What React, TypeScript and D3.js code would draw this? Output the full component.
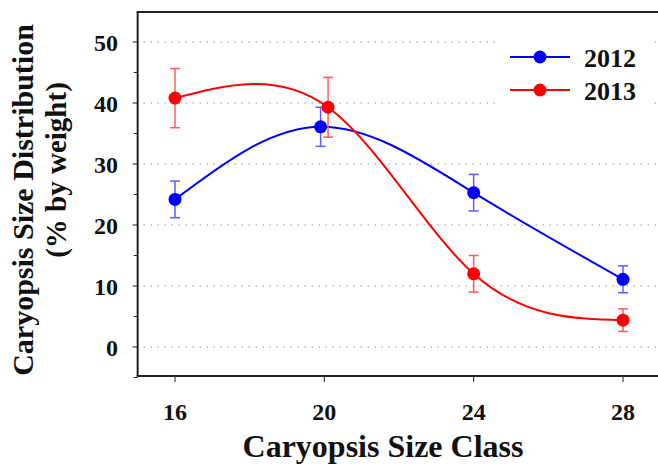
import React from "react";
import * as d3 from "d3";

const xTicks = [16, 20, 24, 28];
const yTicks = [0, 10, 20, 30, 40, 50];
const yMinorTicks = [-5, 5, 15, 25, 35, 45];

const series2012X = [16, 19.9, 24, 28];
const series2012Y = [24.2, 36.1, 25.3, 11.1];
const series2012Err = [3.0, 3.2, 3.0, 2.2];

const series2013X = [16, 20.1, 24, 28];
const series2013Y = [40.8, 39.3, 12.0, 4.4];
const series2013Err = [4.85, 4.9, 3.0, 1.85];

const seriesNames = ["2012", "2013"];
const seriesColors = ["#0000ff", "#ff0000"];
const errColors = ["#5c5cff", "#ff5c5c"];

const W = 658;
const H = 468;
const FONT = "Liberation Serif";

export default function App() {
  const x = d3.scaleLinear().domain([16, 28]).range([175, 623]);
  const y = d3.scaleLinear().domain([0, 50]).range([347, 42]);
  const xLeft = x(15);
  const xRight = x(29);
  const yTop = y(54.92);
  const yBottom = y(-4.75);

  const line = d3
    .line<[number, number]>()
    .x((d) => x(d[0]))
    .y((d) => y(d[1]))
    .curve(d3.curveNatural);

  const series = [
    { xs: series2012X, ys: series2012Y, es: series2012Err },
    { xs: series2013X, ys: series2013Y, es: series2013Err },
  ];

  return (
    <svg
      width={W}
      height={H}
      style={{ position: "absolute", left: 0, top: 0, background: "#fff" }}
    >
      <rect x={0} y={0} width={W} height={H} fill="#fff" />
      {yTicks.map((t) => (
        <line
          key={"g" + t}
          x1={xLeft + 6}
          x2={xRight}
          y1={y(t)}
          y2={y(t)}
          stroke="#777"
          strokeWidth={1}
          strokeDasharray="1.2 5.8"
        />
      ))}
      <rect x={495} y={28} width={158} height={88} fill="#fff" />
      <line x1={xLeft} x2={xLeft} y1={yTop} y2={yBottom} stroke="#222" strokeWidth={2} />
      <line x1={xLeft - 1} x2={xRight} y1={yTop} y2={yTop} stroke="#222" strokeWidth={2} />
      <line x1={xLeft - 1} x2={xRight} y1={yBottom} y2={yBottom} stroke="#222" strokeWidth={2} />
      {yTicks.map((t) => (
        <g key={"yt" + t}>
          <line x1={xLeft - 5} x2={xLeft} y1={y(t)} y2={y(t)} stroke="#222" strokeWidth={1} />
          <text
            x={118}
            y={y(t) + 8.5}
            textAnchor="end"
            fontFamily={FONT}
            fontWeight="bold"
            fontSize={24}
            fill="#111"
          >
            {t}
          </text>
        </g>
      ))}
      {yMinorTicks.map((t) => (
        <line key={"ym" + t} x1={xLeft - 4} x2={xLeft} y1={y(t)} y2={y(t)} stroke="#222" strokeWidth={1} />
      ))}
      {xTicks.map((t) => (
        <g key={"xt" + t}>
          <line x1={x(t)} x2={x(t)} y1={yBottom} y2={yBottom + 6} stroke="#222" strokeWidth={1} />
          <text
            x={x(t)}
            y={420}
            textAnchor="middle"
            fontFamily={FONT}
            fontWeight="bold"
            fontSize={24}
            fill="#111"
          >
            {t}
          </text>
        </g>
      ))}
      <text
        x={383}
        y={457}
        textAnchor="middle"
        fontFamily={FONT}
        fontWeight="bold"
        fontSize={32}
        fill="#111"
      >
        Caryopsis Size Class
      </text>
      <text
        transform={`translate(33,200) rotate(-90)`}
        textAnchor="middle"
        fontFamily={FONT}
        fontWeight="bold"
        fontSize={30}
        fill="#111"
      >
        Caryopsis Size Distribution
      </text>
      <text
        transform={`translate(66,170) rotate(-90)`}
        textAnchor="middle"
        fontFamily={FONT}
        fontWeight="bold"
        fontSize={29}
        fill="#111"
      >
        (% by weight)
      </text>
      {series.map((s, i) => {
        const pts: [number, number][] = s.xs.map((xv, j) => [xv, s.ys[j]]);
        return (
          <g key={"s" + i}>
            <path d={line(pts) || ""} fill="none" stroke={seriesColors[i]} strokeWidth={2} />
            {pts.map((p, j) => (
              <g key={j}>
                <line
                  x1={x(p[0])}
                  x2={x(p[0])}
                  y1={y(p[1] - s.es[j])}
                  y2={y(p[1] + s.es[j])}
                  stroke={errColors[i]}
                  strokeWidth={1.5}
                />
                <line
                  x1={x(p[0]) - 5}
                  x2={x(p[0]) + 5}
                  y1={y(p[1] + s.es[j])}
                  y2={y(p[1] + s.es[j])}
                  stroke={errColors[i]}
                  strokeWidth={1.5}
                />
                <line
                  x1={x(p[0]) - 5}
                  x2={x(p[0]) + 5}
                  y1={y(p[1] - s.es[j])}
                  y2={y(p[1] - s.es[j])}
                  stroke={errColors[i]}
                  strokeWidth={1.5}
                />
                <circle cx={x(p[0])} cy={y(p[1])} r={6.5} fill={seriesColors[i]} />
              </g>
            ))}
          </g>
        );
      })}
      {seriesNames.map((n, i) => {
        const ly = 57 + i * 33;
        return (
          <g key={"l" + i}>
            <line x1={510} x2={570} y1={ly} y2={ly} stroke={seriesColors[i]} strokeWidth={2} />
            <circle cx={540} cy={ly} r={6.5} fill={seriesColors[i]} />
            <text
              x={584}
              y={ly + 10}
              fontFamily={FONT}
              fontWeight="bold"
              fontSize={26}
              fill="#111"
            >
              {n}
            </text>
          </g>
        );
      })}
    </svg>
  );
}
